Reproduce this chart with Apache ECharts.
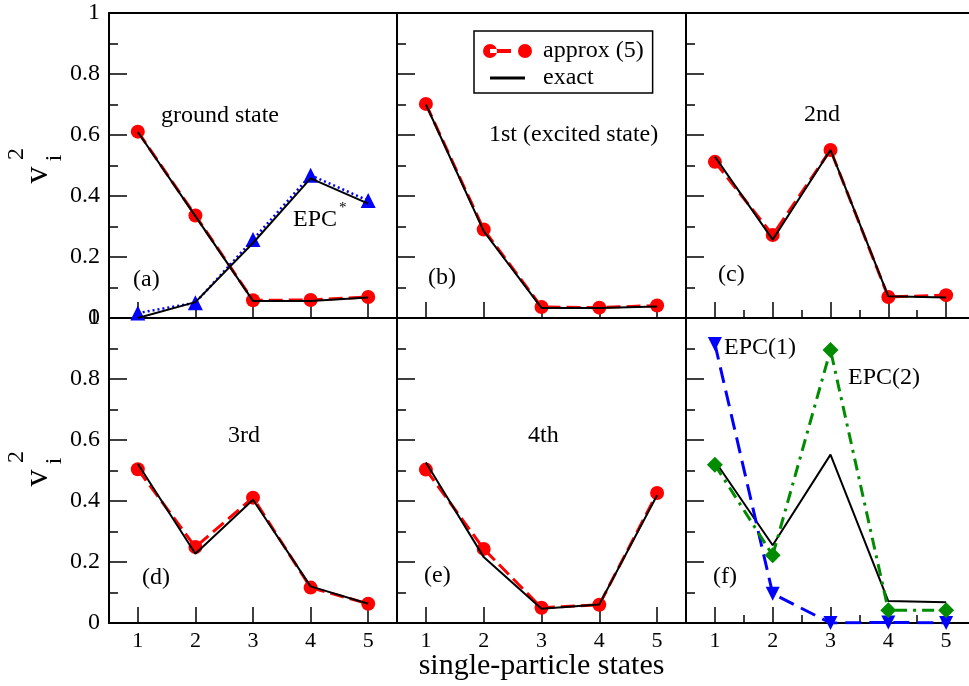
<!DOCTYPE html>
<html>
<head>
<meta charset="utf-8">
<script src="https://cdn.jsdelivr.net/npm/echarts@6/dist/echarts.min.js"></script>
<style>
html, body { margin: 0; padding: 0; background: #fff; }
#chart { width: 969px; height: 686px; }
</style>
</head>
<body>
<div id="chart"></div>
<script>
// x categories and y tick labels
const states = ['1', '2', '3', '4', '5'];
const yTickLabels = ['0', '0.2', '0.4', '0.6', '0.8', '1'];

// (a) ground state
const approxA = [0.611, 0.336, 0.058, 0.059, 0.069];
const exactA = [0.610, 0.334, 0.056, 0.056, 0.067];
const epcStarA = [0.016, 0.050, 0.257, 0.468, 0.385];
const exactEpcStarA = [0.0, 0.052, 0.246, 0.458, 0.375];
// (b) 1st excited
const approxB = [0.702, 0.290, 0.036, 0.034, 0.041];
const exactB = [0.700, 0.285, 0.033, 0.033, 0.038];
// (c) 2nd
const approxC = [0.512, 0.272, 0.551, 0.069, 0.075];
const exactC = [0.529, 0.257, 0.551, 0.071, 0.067];
// (d) 3rd
const approxD = [0.504, 0.249, 0.411, 0.116, 0.063];
const exactD = [0.522, 0.227, 0.404, 0.120, 0.063];
// (e) 4th
const approxE = [0.503, 0.243, 0.050, 0.060, 0.426];
const exactE = [0.526, 0.216, 0.047, 0.061, 0.419];
// (f) EPC
const exactF = [0.531, 0.255, 0.552, 0.072, 0.068];
const epc1F = [0.915, 0.096, 0.0, 0.002, 0.0];
const epc2F = [0.519, 0.222, 0.895, 0.042, 0.042];

const FONT = 'Liberation Serif';
const BLACK = '#000';
const RED = '#ff0000';
const BLUE = '#0000ff';
const GREEN = '#008b00';

const colLeft = [109, 397, 686];
const colWidth = [288, 289, 289];
const rowTop = [13, 318];
const minorX = [2, 5]; // panels with half-step ticks

const grid = [];
const xAxis = [];
const yAxis = [];
for (let r = 0; r < 2; r++) {
    for (let c = 0; c < 3; c++) {
        const i = r * 3 + c;
        grid.push({
            left: colLeft[c], top: rowTop[r], width: colWidth[c], height: 305,
            show: true, borderColor: BLACK, borderWidth: 2,
            outerBoundsMode: 'none', containLabel: false
        });
        xAxis.push({
            type: 'category', gridIndex: i, data: states, boundaryGap: true, position: 'bottom',
            axisLine: { show: true, lineStyle: { color: BLACK, width: 2 } },
            axisTick: { show: true, inside: true, alignWithLabel: true, interval: 0, length: 16, lineStyle: { color: BLACK, width: 1.5 } },
            axisLabel: { show: r === 1, interval: 0, color: BLACK, fontFamily: FONT, fontSize: 22, margin: 7 },
            splitLine: { show: false },
            name: i === 4 ? 'single-particle states' : '',
            nameLocation: 'middle', nameGap: 28, nameMoveOverlap: false,
            nameTextStyle: { color: BLACK, fontFamily: FONT, fontSize: 30 }
        });
        yAxis.push({
            type: 'value', gridIndex: i, min: 0, max: 1, interval: 0.2,
            axisLine: { show: true, lineStyle: { color: BLACK, width: 2 } },
            axisTick: { show: true, inside: true, length: 18, lineStyle: { color: BLACK, width: 1.5 } },
            minorTick: { show: true, splitNumber: 2, length: 9, lineStyle: { color: BLACK, width: 1.5 } },
            splitLine: { show: false },
            minorSplitLine: { show: false },
            axisLabel: {
                show: c === 0, showMinLabel: true, showMaxLabel: true,
                color: BLACK, fontFamily: FONT, fontSize: 24, margin: 9,
                formatter: (v) => yTickLabels[Math.round(v / 0.2)]
            }
        });
    }
}
// short ticks between states on (c) and (f)
minorX.forEach((g) => {
    xAxis.push({
        type: 'category', gridIndex: g, data: states, boundaryGap: true, position: 'bottom',
        axisLine: { show: false },
        axisTick: { show: true, inside: true, alignWithLabel: false, interval: 0, length: 8, lineStyle: { color: BLACK, width: 1.5 } },
        axisLabel: { show: false },
        splitLine: { show: false }
    });
});

function approx(i, data) {
    return {
        type: 'line', name: 'approx (5)', xAxisIndex: i, yAxisIndex: i, data: data,
        symbol: 'circle', symbolSize: 14, z: 2,
        itemStyle: { color: RED },
        lineStyle: { color: RED, width: 3, type: [14, 6] }
    };
}
function exact(i, data) {
    return {
        type: 'line', name: 'exact', xAxisIndex: i, yAxisIndex: i, data: data,
        symbol: 'none', z: 5,
        itemStyle: { color: BLACK },
        lineStyle: { color: BLACK, width: 2 }
    };
}

const series = [
    approx(0, approxA),
    {
        type: 'line', name: 'EPC*', xAxisIndex: 0, yAxisIndex: 0, data: epcStarA,
        symbol: 'triangle', symbolSize: 15, z: 3,
        itemStyle: { color: BLUE },
        lineStyle: { color: BLUE, width: 2.5, type: [2, 3] }
    },
    exact(0, exactA),
    exact(0, exactEpcStarA),
    approx(1, approxB), exact(1, exactB),
    approx(2, approxC), exact(2, exactC),
    approx(3, approxD), exact(3, exactD),
    approx(4, approxE), exact(4, exactE),
    exact(5, exactF),
    {
        type: 'line', name: 'EPC(1)', xAxisIndex: 5, yAxisIndex: 5, data: epc1F,
        symbol: 'triangle', symbolRotate: 180, symbolSize: 14, z: 6,
        itemStyle: { color: BLUE },
        lineStyle: { color: BLUE, width: 3, type: [16, 8] }
    },
    {
        type: 'line', name: 'EPC(2)', xAxisIndex: 5, yAxisIndex: 5, data: epc2F,
        symbol: 'diamond', symbolSize: 16, z: 7,
        itemStyle: { color: GREEN },
        lineStyle: { color: GREEN, width: 3, type: [12, 6, 3, 6] }
    }
];

// panel texts: [text, left x, middle y, size]
const notes = [
    ['ground state', 161, 116, 24],
    ['EPC', 293, 220, 24],
    ['*', 339, 208, 15],
    ['(a)', 133, 280, 24],
    ['1st (excited state)', 489, 135, 24],
    ['(b)', 428, 278, 24],
    ['2nd', 804, 115, 24],
    ['(c)', 718, 275, 24],
    ['3rd', 228, 436, 24],
    ['(d)', 142, 578, 24],
    ['4th', 528, 436, 24],
    ['(e)', 424, 576, 24],
    ['(f)', 713, 577, 24],
    ['EPC(1)', 724, 348, 24],
    ['EPC(2)', 848, 378, 24]
];
const graphic = notes.map(([t, x, y, s]) => ({
    type: 'text', x: x, y: y, z: 20, silent: true,
    style: { text: t, fill: BLACK, font: s + 'px "' + FONT + '"', align: 'left', verticalAlign: 'middle' }
}));
// rotated y title v_i^2 for both rows
[0, 303].forEach((dy) => {
    [['v', 38, 175, 34], ['i', 55, 158, 24], ['2', 17, 154, 24]].forEach(([t, x, y, s]) => {
        graphic.push({
            type: 'text', x: x, y: y + dy, rotation: Math.PI / 2, z: 20, silent: true,
            style: { text: t, fill: BLACK, font: s + 'px "' + FONT + '"', align: 'center', verticalAlign: 'middle' }
        });
    });
});

const chart = echarts.init(document.getElementById('chart'));
chart.setOption({
    animation: false,
    backgroundColor: '#fff',
    grid: grid,
    xAxis: xAxis,
    yAxis: yAxis,
    legend: {
        show: true, orient: 'vertical', left: 474, top: 31,
        padding: [8, 9, 3, 9], itemGap: 3, itemWidth: 49, itemHeight: 14,
        borderColor: BLACK, borderWidth: 1.5, borderRadius: 0, backgroundColor: '#fff',
        selectedMode: false,
        itemStyle: { borderWidth: 0 },
        textStyle: { fontFamily: FONT, fontSize: 24, color: BLACK, padding: [0, 0, 0, 6] },
        data: [
            { name: 'approx (5)', icon: 'path://M0,7a7,7 0 1,0 14,0a7,7 0 1,0 -14,0z M7,5h21v4h-21z M35,7a7,7 0 1,0 14,0a7,7 0 1,0 -14,0z' },
            { name: 'exact', icon: 'path://M0,0h0.5v0.01h-0.5z M7,5.5h35v3h-35z M48.5,13.99h0.5v0.01h-0.5z' }
        ]
    },
    graphic: graphic,
    series: series
});
</script>
</body>
</html>
